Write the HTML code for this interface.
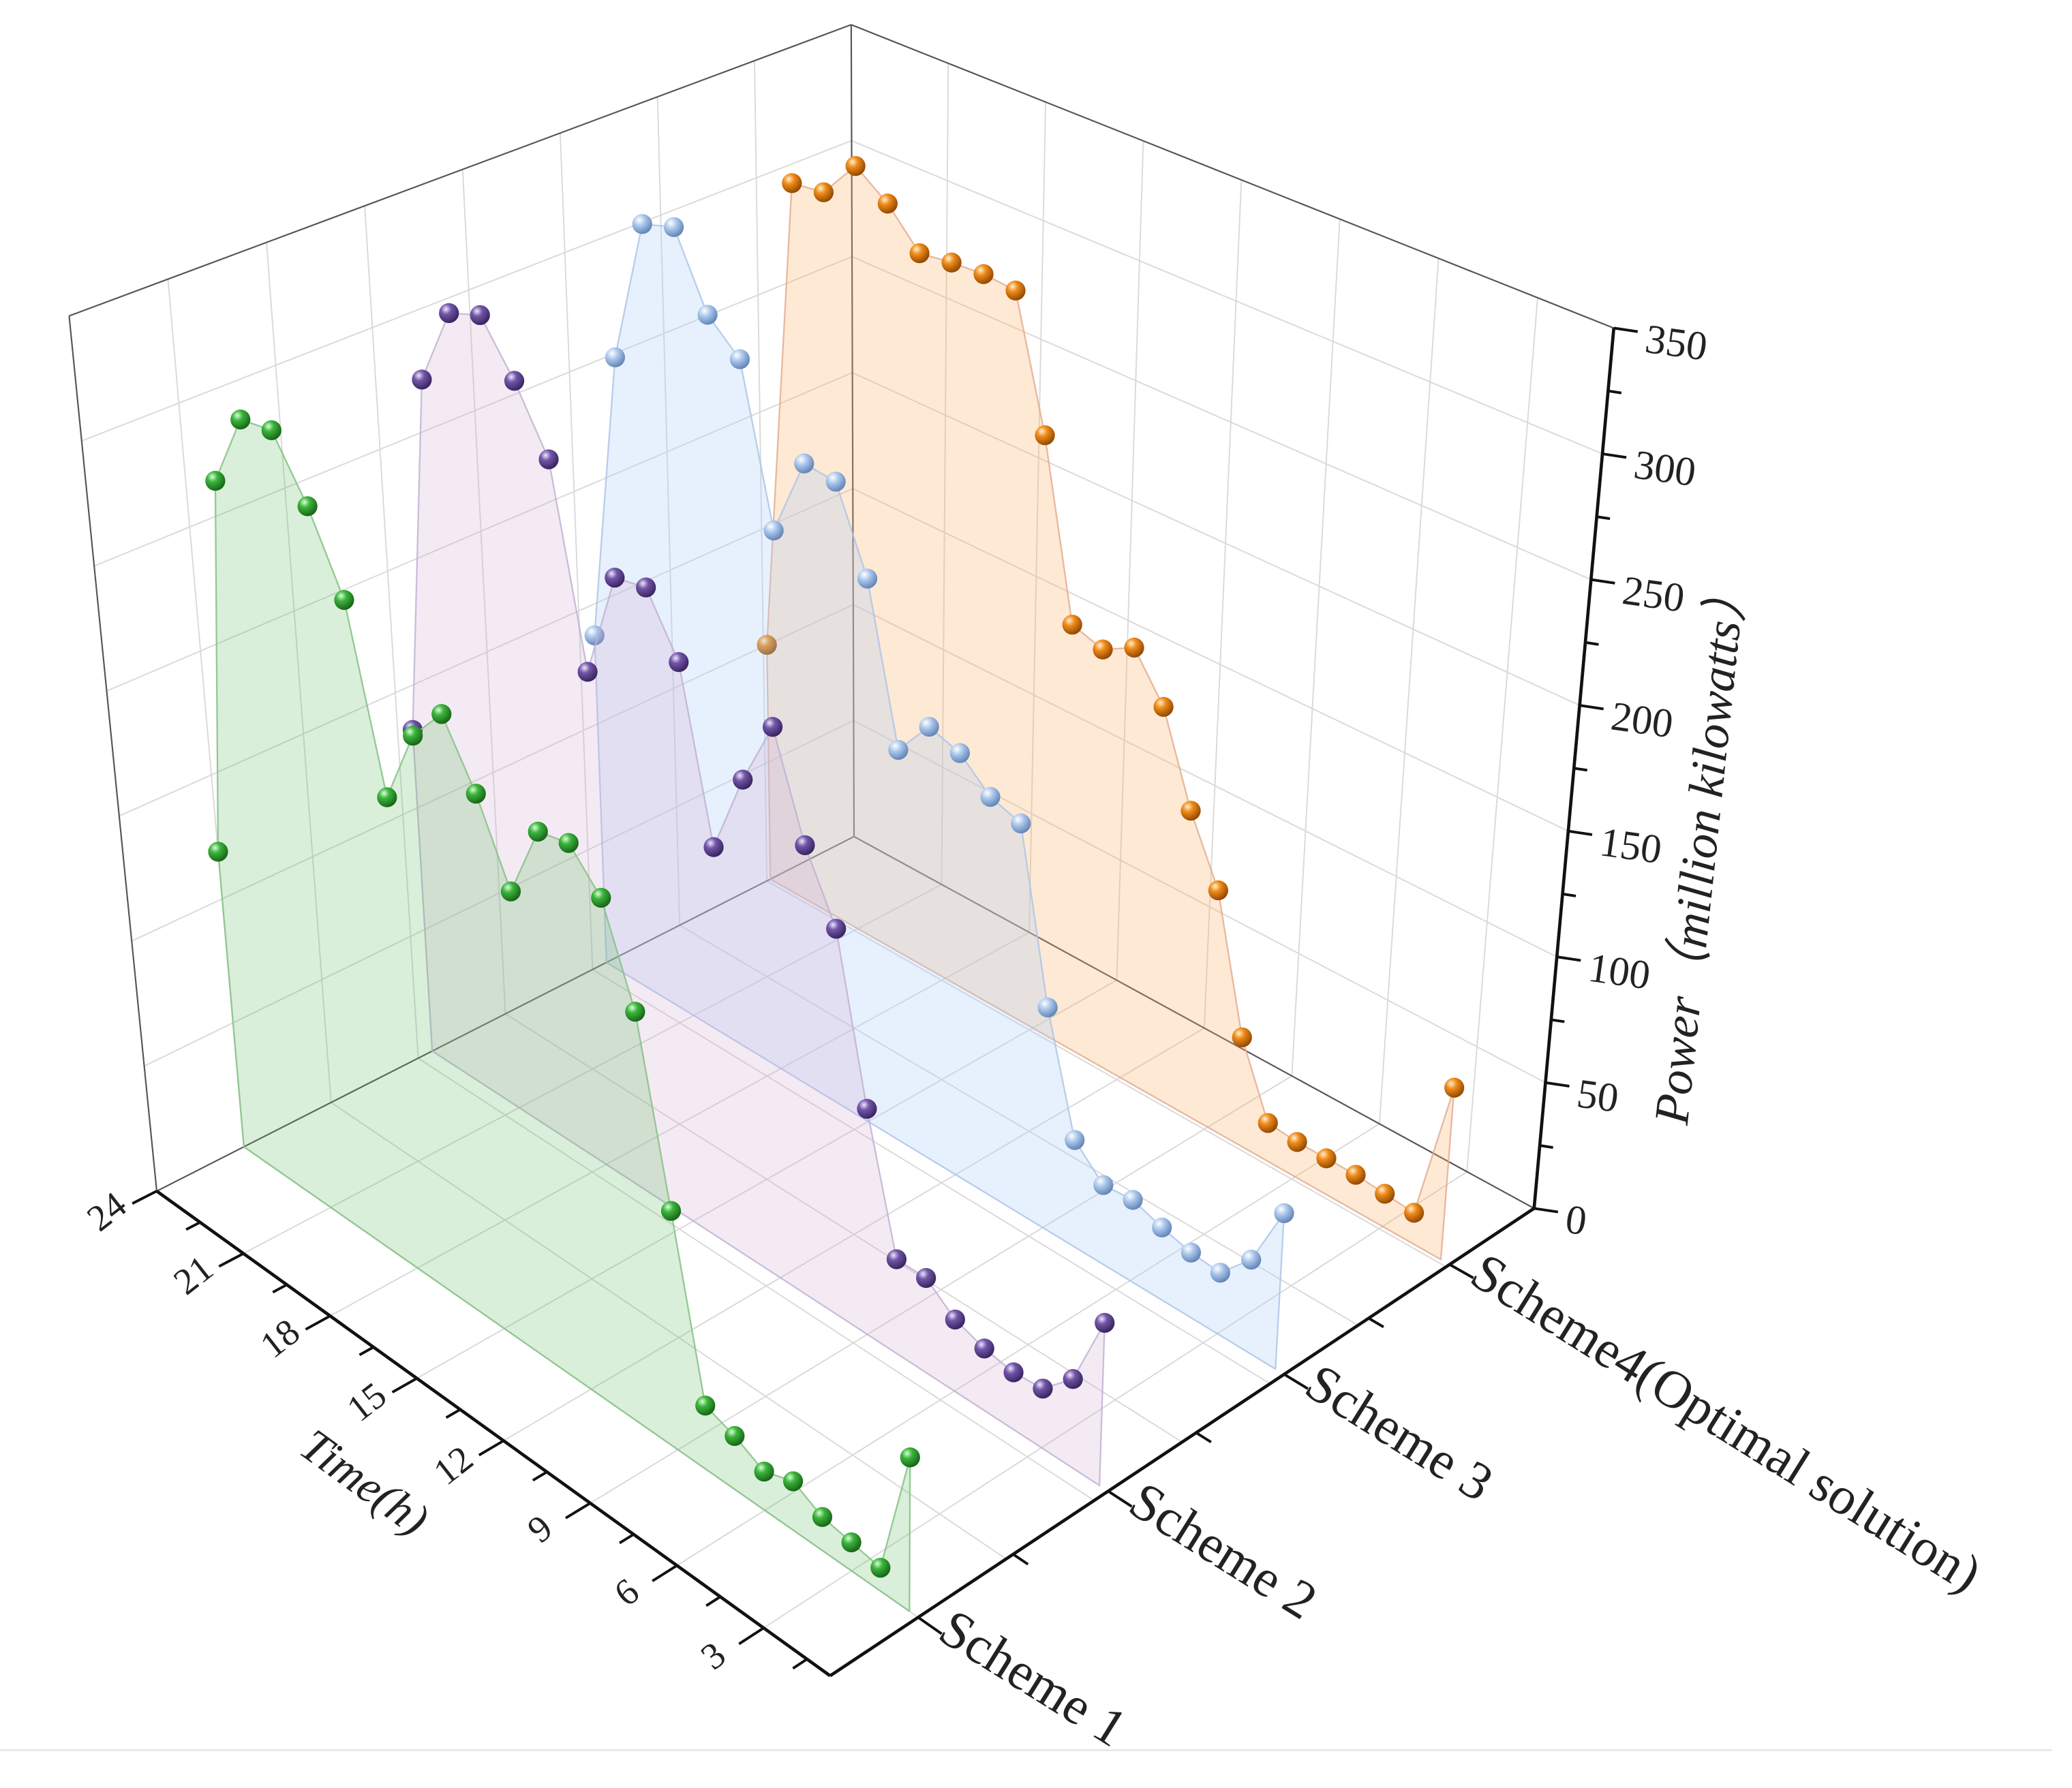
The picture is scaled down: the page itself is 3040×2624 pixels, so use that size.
<!DOCTYPE html>
<html><head><meta charset="utf-8">
<style>
html,body{margin:0;padding:0;background:#fff;}
svg{display:block;}
text{font-family:"Liberation Serif",serif;fill:#222;}
</style></head>
<body>
<svg id="chart" xmlns="http://www.w3.org/2000/svg" width="3040" height="2624" viewBox="0 0 1560 1346.5" preserveAspectRatio="none">
<defs>
<radialGradient id="g-green" cx="0.35" cy="0.3" r="0.75"><stop offset="0" stop-color="#d8ffd8"/><stop offset="0.35" stop-color="#3cb43c"/><stop offset="1" stop-color="#145f14"/></radialGradient>
<radialGradient id="g-purple" cx="0.35" cy="0.3" r="0.75"><stop offset="0" stop-color="#efe6ff"/><stop offset="0.35" stop-color="#7356a8"/><stop offset="1" stop-color="#33205a"/></radialGradient>
<radialGradient id="g-blue" cx="0.35" cy="0.3" r="0.75"><stop offset="0" stop-color="#ffffff"/><stop offset="0.4" stop-color="#a9c6ec"/><stop offset="1" stop-color="#5d7fb0"/></radialGradient>
<radialGradient id="g-orange" cx="0.35" cy="0.3" r="0.75"><stop offset="0" stop-color="#fff0d0"/><stop offset="0.35" stop-color="#f08c1a"/><stop offset="1" stop-color="#8a4300"/></radialGradient>
</defs>
<line x1="0" y1="1318" x2="1545" y2="1318" stroke="#e8e8e8" stroke-width="1.5"/>
<g id="grid"></g>
<g id="series"></g>
<g id="axes"></g>
</svg>
<script>
// ---- data ----
const hours = [24,23,22,21,20,19,18,17,16,15,14,13,12,11,10,9,8,7,6,5,4,3,2,1];
const schemeNames = ["Scheme 1","Scheme 2","Scheme 3","Scheme4(Optimal solution)"];
const scheme1Values = [119,276,308,311,288,258,187,219,235,211,180,211,214,200,163,93,25,21,15,19,13,11,9,59];
const scheme2Values = [132,283,317,323,303,278,199,244,247,224,157,191,219,179,153,89,37,37,28,24,22,23,34,63];
const scheme3Values = [137,260,322,327,297,285,221,255,254,221,158,174,170,159,155,88,42,31,32,28,25,24,36,61];
const scheme4Values = [100,303,305,322,312,297,299,300,299,245,173,169,176,158,122,96,43,15,14,14,14,13,12,68];
const timeTicks = [24,21,18,15,12,9,6,3];
const powerTicks = [0,50,100,150,200,250,300,350];

// ---- projection ----
const NS = "http://www.w3.org/2000/svg";
const PMAX = 350;
const L=[118,897], F=[625,1262], R=[1155,910], B=[643,630];
const kL=1.121, kF=1.136, kR=1.122, kB=1.107;
const VP=[663,6344];
const schemeDepth=[0.125,0.395,0.645,0.88];
function uOf(h){ return (24-h)/23.3; }
function vOf(i){ return schemeDepth[i]; }
function proj(u,v,p){
  const a=(1-u)*(1-v), b=u*(1-v), c=u*v, d=(1-u)*v;
  const x=a*L[0]+b*F[0]+c*R[0]+d*B[0];
  const y=a*L[1]+b*F[1]+c*R[1]+d*B[1];
  const k=a*kL+b*kF+c*kR+d*kB;
  const s=1+(k-1)*p/PMAX;
  return [VP[0]+(x-VP[0])*s, VP[1]+(y-VP[1])*s];
}
function mk(tag,attrs,parent){
  const e=document.createElementNS(NS,tag);
  for(const k in attrs) e.setAttribute(k,attrs[k]);
  parent.appendChild(e); return e;
}
function line(p1,p2,stroke,w,parent){
  return mk("line",{x1:p1[0],y1:p1[1],x2:p2[0],y2:p2[1],stroke:stroke,"stroke-width":w},parent);
}
const grid=document.getElementById("grid");
const axes=document.getElementById("axes");
const ser=document.getElementById("series");

const gc="#dadada";
for(let j=1;j<8;j++){
  const v=j/8;
  const g1=line(proj(0,v,0),proj(0,v,PMAX),gc,1,grid);
  
  
  const g2=line(proj(0,v,0),proj(1,v,0),gc,1,grid);
  
  
}
timeTicks.forEach(h=>{
  const u=uOf(h); if(u<=0.001) return;
  const g1=line(proj(u,1,0),proj(u,1,PMAX),gc,1,grid);
  
  
  const g2=line(proj(u,0,0),proj(u,1,0),gc,1,grid);
  
  
});
powerTicks.forEach(p=>{
  if(p===0||p===PMAX) return;
  const g1=line(proj(0,0,p),proj(0,1,p),gc,1,grid);
  
  
  const g2=line(proj(0,1,p),proj(1,1,p),gc,1,grid);
  
  
});
[[proj(0,0,0),proj(0,0,PMAX)],[proj(0,1,0),proj(0,1,PMAX)],[proj(0,0,PMAX),proj(0,1,PMAX)],[proj(0,1,PMAX),proj(1,1,PMAX)],[proj(0,1,0),proj(1,1,0)],[proj(0,0,0),proj(0,1,0)]].forEach(e=>{
  const l=line(e[0],e[1],"#555",1.1,grid);
  
  
});

const seriesList=[
  {vals:scheme4Values, idx:3, fill:"rgba(250,175,105,0.28)", stroke:"rgba(225,170,140,0.8)", grad:"g-orange", name:"scheme4"},
  {vals:scheme3Values, idx:2, fill:"rgba(175,210,248,0.30)", stroke:"rgba(170,195,230,0.8)", grad:"g-blue", name:"scheme3"},
  {vals:scheme2Values, idx:1, fill:"rgba(210,170,210,0.25)", stroke:"rgba(190,175,210,0.8)", grad:"g-purple", name:"scheme2"},
  {vals:scheme1Values, idx:0, fill:"rgba(90,185,90,0.23)", stroke:"rgba(140,195,140,0.9)", grad:"g-green", name:"scheme1"}
];
seriesList.forEach(s=>{
  const v=vOf(s.idx);
  const g=mk("g",{},ser);
  
  
  const top=hours.map((h,i)=>proj(uOf(h),v,s.vals[i]));
  const base=[proj(uOf(hours[hours.length-1]),v,0),proj(uOf(hours[0]),v,0)];
  const pts=[base[1]].concat(top).concat([base[0]]);
  const area=mk("polygon",{points:pts.map(p=>p[0].toFixed(1)+","+p[1].toFixed(1)).join(" "),fill:s.fill,stroke:s.stroke,"stroke-width":1.2,"stroke-linejoin":"round"},g);
  
  
  top.forEach((p,i)=>{
    const c=mk("circle",{cx:p[0].toFixed(1),cy:p[1].toFixed(1),r:7.5,fill:"url(#"+s.grad+")"},g);
    
    
  });
});

const ax1=line(proj(0,0,0),proj(1,0,0),"#111",2.4,axes);


const ax2=line(proj(1,0,0),proj(1,1,0),"#111",2.4,axes);


const ax3=line(proj(1,1,0),proj(1,1,PMAX),"#111",2.4,axes);



for(let h=24; h>=1.5; h-=1.5){
  const u=uOf(h);
  const major=(h%3===0);
  const a=proj(u,0,0), b=proj(u,major?-0.035:-0.02,0);
  const t=line(a,b,"#111",2,axes);
  
  
}
timeTicks.forEach(h=>{
  const p=proj(uOf(h),-0.072,0);
  const t=mk("text",{x:p[0],y:p[1]-4,"font-size":28,"text-anchor":"middle","dominant-baseline":"central",transform:"rotate(-38 "+p[0]+" "+(p[1]-4)+")"},axes);
  t.textContent=h;
  
  
});
{
  const p=proj(0.47,-0.155,0);
  const t=mk("text",{x:p[0],y:p[1],"font-size":35,"font-style":"italic","text-anchor":"middle","dominant-baseline":"central",transform:"rotate(36 "+p[0]+" "+p[1]+")"},axes);
  t.textContent="Time(h)";
  
  
}
const tickVs=[0.125,0.26,0.395,0.52,0.645,0.765,0.88];
tickVs.forEach((v,j)=>{
  const major=(j%2===0);
  const t=line(proj(1,v,0),proj(major?1.035:1.022,v,0),"#111",2,axes);
  
  
});
schemeNames.forEach((n,i)=>{
  const p=proj(1.04,vOf(i),0);
  const y=p[1]-10;
  const t=mk("text",{x:p[0],y:y,"font-size":40,"text-anchor":"start","dominant-baseline":"central",transform:"rotate(32 "+p[0]+" "+y+")"},axes);
  t.textContent=n;
  
  
});
for(let p=0;p<=PMAX;p+=25){
  const major=(p%50===0);
  const a=proj(1,1,p);
  const len=major?18:10;
  const t=line(a,[a[0]+len,a[1]+len*0.15],"#111",2,axes);
  
  
}
powerTicks.forEach(p=>{
  const a=proj(1,1,p);
  const x=a[0]+24, y=a[1]+8;
  const t=mk("text",{x:x,y:y,"font-size":31,"text-anchor":"start","dominant-baseline":"central",transform:"rotate(8 "+x+" "+y+")"},axes);
  t.textContent=p;
  
  
});
{
  const a=proj(1,1,175);
  const x=a[0]+95, y=a[1]+60;
  const t=mk("text",{x:x,y:y,"font-size":37,"font-style":"italic","text-anchor":"middle","dominant-baseline":"central",transform:"rotate(-84 "+x+" "+y+")"},axes);
  t.textContent="Power（million kilowatts）";
  
  
}
</script>
</body></html>
